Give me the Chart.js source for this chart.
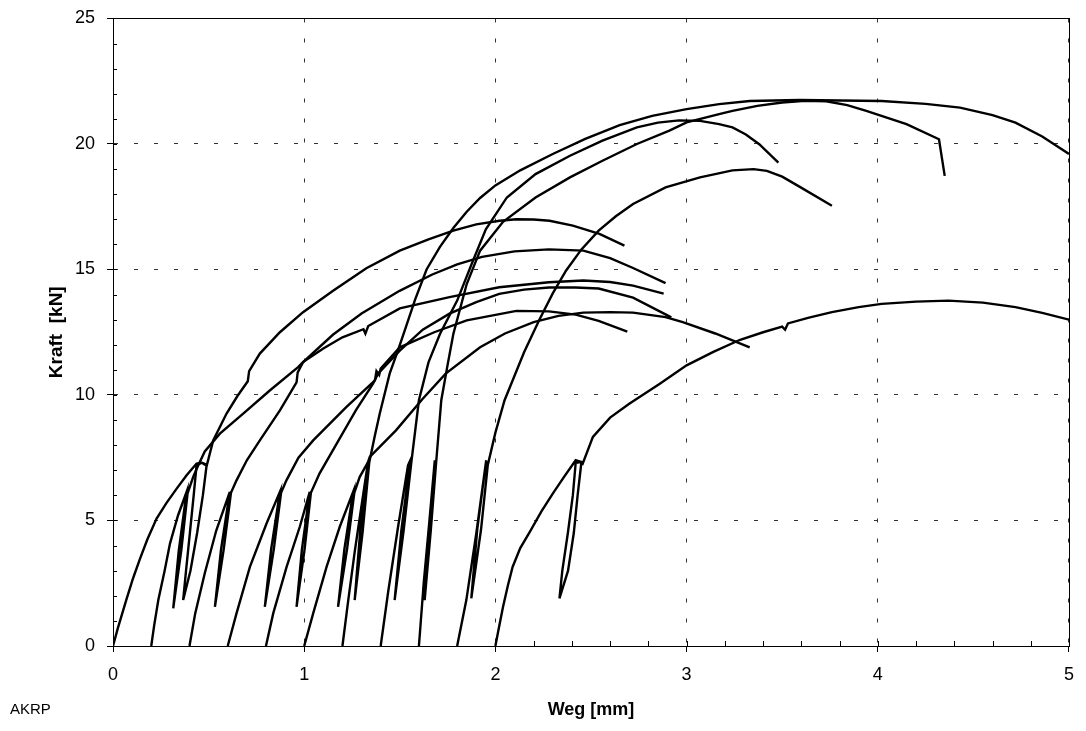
<!DOCTYPE html>
<html><head><meta charset="utf-8">
<script src="https://cdn.jsdelivr.net/npm/chart.js@4/dist/chart.umd.min.js"></script>
<style>html,body{margin:0;padding:0;background:#fff;}#wrap{width:1086px;height:731px;position:relative;}</style>
</head><body><div id="wrap"><canvas id="c" width="1086" height="731"></canvas></div>
<script>
// Weg [mm], Kraft [kN] pairs, one array per specimen (named by start displacement)
const spec00 = [[0,0],[0.025,0.7],[0.07,1.85],[0.105,2.7],[0.14,3.45],[0.18,4.25],[0.228,5.08],[0.28,5.7],[0.333,6.27],[0.385,6.8],[0.437,7.27],[0.465,7.3],[0.49,7.22],[0.47,6.0],[0.44,4.5],[0.405,3.0],[0.367,1.83],[0.382,3.0],[0.402,4.5],[0.422,6.0],[0.437,7.2],[0.465,7.3],[0.49,7.18],[0.524,8.19],[0.594,9.26],[0.65,9.95],[0.705,10.55],[0.712,10.95],[0.768,11.65],[0.873,12.5],[0.994,13.3],[1.151,14.15],[1.325,15.05],[1.5,15.75],[1.65,16.2],[1.78,16.55],[1.9,16.8],[2.022,16.94],[2.11,17.0],[2.2,16.99],[2.283,16.94],[2.405,16.75],[2.544,16.42],[2.675,15.95]];
const spec02 = [[0.2,0],[0.215,0.8],[0.237,1.83],[0.27,3.0],[0.298,4.08],[0.34,5.2],[0.385,6.14],[0.344,3.8],[0.315,1.5],[0.357,3.8],[0.39,6.08],[0.42,6.75],[0.446,7.2],[0.48,7.75],[0.559,8.46],[0.681,9.26],[0.82,10.18],[0.968,11.11],[0.994,11.31],[1.15,12.4],[1.3,13.25],[1.499,14.15],[1.67,14.8],[1.8,15.2],[1.93,15.5],[2.1,15.72],[2.28,15.8],[2.46,15.75],[2.6,15.45],[2.72,15.06],[2.89,14.46]];
const spec04 = [[0.4,0],[0.43,1.3],[0.48,2.9],[0.54,4.6],[0.611,6.14],[0.565,3.85],[0.533,1.56],[0.579,3.85],[0.617,6.1],[0.646,6.6],[0.7,7.4],[0.768,8.19],[0.873,9.39],[0.96,10.5],[0.966,10.9],[0.994,11.31],[1.1,11.85],[1.2,12.3],[1.31,12.62],[1.32,12.45],[1.335,12.75],[1.5,13.45],[1.76,13.9],[2.02,14.29],[2.28,14.49],[2.46,14.56],[2.6,14.5],[2.72,14.36],[2.88,14.04]];
const spec06 = [[0.6,0],[0.646,1.3],[0.716,3.15],[0.803,4.88],[0.873,6.14],[0.827,3.85],[0.794,1.56],[0.841,3.85],[0.879,6.1],[0.907,6.6],[0.97,7.5],[1.047,8.19],[1.22,9.52],[1.37,10.58],[1.378,10.95],[1.392,10.8],[1.4,11.05],[1.5,11.9],[1.68,12.5],[1.85,12.97],[2.11,13.35],[2.28,13.33],[2.42,13.2],[2.54,12.95],[2.69,12.52]];
const spec08 = [[0.8,0],[0.838,1.3],[0.908,3.15],[0.977,4.75],[1.029,6.14],[0.988,3.85],[0.96,1.56],[1.002,3.85],[1.035,6.1],[1.08,6.87],[1.17,8.06],[1.27,9.39],[1.36,10.45],[1.386,10.85],[1.5,11.77],[1.62,12.6],[1.76,13.24],[1.9,13.7],[2.02,14.03],[2.15,14.2],[2.28,14.28],[2.42,14.28],[2.54,14.24],[2.72,13.88],[2.92,13.09]];
const spec10 = [[1.0,0],[1.047,1.3],[1.117,3.15],[1.186,4.75],[1.256,6.14],[1.21,3.85],[1.177,1.56],[1.224,3.85],[1.262,6.1],[1.29,6.73],[1.334,7.33],[1.343,7.53],[1.48,8.59],[1.62,9.85],[1.74,10.85],[1.92,11.9],[2.05,12.45],[2.2,12.9],[2.33,13.15],[2.46,13.28],[2.6,13.3],[2.72,13.28],[2.89,13.1],[2.98,12.9],[3.15,12.45],[3.33,11.9]];
const spec12 = [[1.2,0],[1.23,1.8],[1.265,3.8],[1.3,5.6],[1.334,7.33],[1.293,4.58],[1.264,1.83],[1.306,4.58],[1.34,7.3],[1.37,8.4],[1.395,9.25],[1.447,10.85],[1.49,11.77],[1.526,12.57],[1.58,13.8],[1.64,15.0],[1.71,15.9],[1.78,16.65],[1.85,17.3],[1.92,17.85],[2.0,18.35],[2.13,18.95],[2.3,19.6],[2.47,20.2],[2.65,20.75],[2.82,21.12],[3.0,21.39],[3.17,21.59],[3.33,21.71],[3.59,21.75],[4.02,21.71],[4.25,21.6],[4.43,21.45],[4.6,21.15],[4.72,20.85],[4.86,20.3],[5.0,19.6]];
const spec14 = [[1.4,0],[1.44,2.2],[1.49,4.7],[1.543,7.2],[1.555,7.4],[1.508,4.6],[1.473,1.83],[1.52,4.6],[1.56,7.3],[1.6,9.79],[1.65,11.3],[1.71,12.43],[1.8,13.76],[1.88,15.3],[1.95,16.6],[2.06,17.87],[2.21,18.8],[2.39,19.53],[2.56,20.13],[2.74,20.66],[2.85,20.85],[2.96,20.94],[3.07,20.92],[3.17,20.79],[3.24,20.66],[3.31,20.38],[3.38,19.99],[3.48,19.26]];
const spec16 = [[1.6,0],[1.625,2.5],[1.655,5.0],[1.683,7.4],[1.652,4.6],[1.63,1.83],[1.662,4.6],[1.69,7.3],[1.717,9.79],[1.75,11.2],[1.78,12.43],[1.85,14.42],[1.92,15.75],[2.04,16.9],[2.21,17.87],[2.39,18.67],[2.56,19.33],[2.74,20.0],[2.91,20.53],[3.0,20.86],[3.17,21.19],[3.24,21.32],[3.37,21.52],[3.5,21.65],[3.62,21.72],[3.73,21.7],[3.84,21.55],[3.94,21.32],[4.15,20.79],[4.32,20.19],[4.35,18.73]];
const spec18 = [[1.8,0],[1.848,1.83],[1.9,4.48],[1.952,7.4],[1.905,4.65],[1.874,1.9],[1.925,4.65],[1.96,7.2],[2.0,8.5],[2.048,9.79],[2.09,10.58],[2.15,11.7],[2.23,13.0],[2.3,14.05],[2.37,14.96],[2.45,15.8],[2.54,16.55],[2.63,17.12],[2.72,17.61],[2.89,18.27],[3.07,18.67],[3.24,18.95],[3.35,19.0],[3.42,18.93],[3.5,18.7],[3.59,18.3],[3.76,17.54]];
const spec20 = [[2.0,0],[2.015,0.6],[2.04,1.56],[2.065,2.4],[2.09,3.15],[2.13,3.9],[2.18,4.55],[2.24,5.35],[2.3,6.07],[2.36,6.75],[2.42,7.4],[2.45,7.33],[2.43,6.0],[2.41,4.5],[2.38,3.0],[2.335,1.9],[2.35,3.0],[2.379,4.5],[2.405,6.0],[2.42,7.3],[2.45,7.33],[2.457,7.27],[2.51,8.33],[2.6,9.1],[2.7,9.65],[2.86,10.45],[3.0,11.18],[3.14,11.72],[3.28,12.2],[3.4,12.5],[3.5,12.72],[3.515,12.6],[3.53,12.85],[3.64,13.08],[3.76,13.3],[3.9,13.5],[4.02,13.63],[4.2,13.72],[4.37,13.76],[4.55,13.68],[4.72,13.5],[4.86,13.27],[5.0,13.0]];

const specimens = [spec00, spec02, spec04, spec06, spec08, spec10, spec12, spec14, spec16, spec18, spec20];
const xRange = [0, 5];
const yRange = [0, 25];
const xMajorStep = 1, xMinorStep = 0.2;
const yMajorStep = 5, yMinorStep = 1;
const xTitle = 'Weg [mm]';
const yTitle = 'Kraft  [kN]';
const cornerNote = 'AKRP';

const FONT = "'Liberation Sans', Arial, Helvetica, sans-serif";

const framePlugin = {
  id: 'frameAndMinor',
  afterDraw(chart) {
    const ctx = chart.ctx, a = chart.chartArea, xs = chart.scales.x, ys = chart.scales.y;
    ctx.save();
    ctx.strokeStyle = '#000';
    ctx.lineWidth = 1;
    ctx.strokeRect(Math.round(a.left) + 0.5, Math.round(a.top) + 0.5, Math.round(a.right - a.left), Math.round(a.bottom - a.top));
    ctx.beginPath();
    const nx = Math.round((xRange[1] - xRange[0]) / xMinorStep);
    for (let i = 0; i <= nx; i++) {
      const px = Math.round(xs.getPixelForValue(xRange[0] + i * xMinorStep)) + 0.5;
      ctx.moveTo(px, a.bottom);
      ctx.lineTo(px, a.bottom - 5);
    }
    const ny = Math.round((yRange[1] - yRange[0]) / yMinorStep);
    for (let i = 0; i <= ny; i++) {
      const py = Math.round(ys.getPixelForValue(yRange[0] + i * yMinorStep)) + 0.5;
      ctx.moveTo(a.left, py);
      ctx.lineTo(a.left + 4, py);
    }
    ctx.stroke();
    ctx.fillStyle = '#000';
    ctx.font = '15px ' + FONT;
    ctx.textBaseline = 'middle';
    ctx.textAlign = 'left';
    ctx.fillText(cornerNote, 10, 710);
    ctx.restore();
  }
};

new Chart(document.getElementById('c'), {
  type: 'scatter',
  data: {
    datasets: specimens.map(s => ({
      data: s.map(p => ({x: p[0], y: p[1]})),
      showLine: true,
      borderColor: '#000',
      backgroundColor: '#000',
      borderWidth: 2.4,
      pointRadius: 0,
      pointHoverRadius: 0,
      fill: false,
      tension: 0
    }))
  },
  options: {
    responsive: false,
    animation: false,
    devicePixelRatio: 1,
    layout: {padding: {left: 0, top: 12, right: 16, bottom: 0}},
    plugins: {legend: {display: false}, tooltip: {enabled: false}},
    scales: {
      x: {
        type: 'linear', min: xRange[0], max: xRange[1],
        ticks: {stepSize: xMajorStep, color: '#000', padding: 12, font: {family: FONT, size: 18}},
        grid: {color: '#333', lineWidth: 1, drawTicks: true, tickLength: 6, tickColor: '#000', tickBorderDash: []},
        border: {display: true, color: '#000', width: 1, dash: [4, 16]},
        title: {display: true, text: xTitle, color: '#000', font: {family: FONT, size: 18, weight: 'bold'}, padding: {top: 0, bottom: 10}},
        afterFit(s) { s.height = 85; }
      },
      y: {
        type: 'linear', min: yRange[0], max: yRange[1],
        ticks: {stepSize: yMajorStep, color: '#000', padding: 12, font: {family: FONT, size: 18, lineHeight: 0.72}},
        grid: {color: '#333', lineWidth: 1, drawTicks: true, tickLength: 6, tickColor: '#000', tickBorderDash: []},
        border: {display: true, color: '#000', width: 1, dash: [4, 16]},
        title: {display: true, text: yTitle, color: '#000', font: {family: FONT, size: 19, weight: 'bold'}, padding: {top: 45, bottom: 0}},
        afterFit(s) { s.width = 113; }
      }
    }
  },
  plugins: [framePlugin]
});
</script>
</body></html>
